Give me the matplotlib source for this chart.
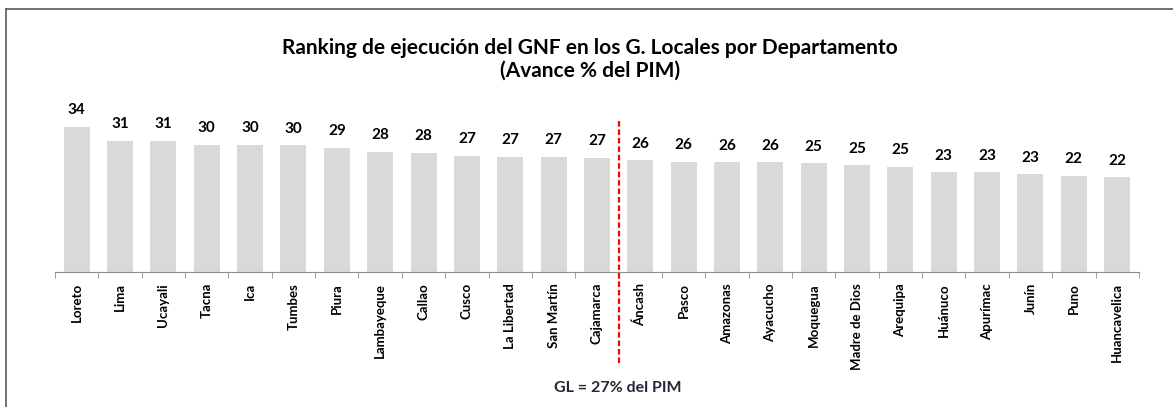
import matplotlib.pyplot as plt
from matplotlib.lines import Line2D
import numpy as np

plt.rcParams['font.family'] = ['Lato', 'DejaVu Sans']

departamentos = ['Loreto', 'Lima', 'Ucayali', 'Tacna', 'Ica', 'Tumbes', 'Piura',
                 'Lambayeque', 'Callao', 'Cusco', 'La Libertad', 'San Martín',
                 'Cajamarca', 'Áncash', 'Pasco', 'Amazonas', 'Ayacucho', 'Moquegua',
                 'Madre de Dios', 'Arequipa', 'Huánuco', 'Apurímac', 'Junín', 'Puno',
                 'Huancavelica']
avance = [34.0, 30.6, 30.6, 29.8, 29.8, 29.6, 29.1, 28.1, 27.8, 27.2, 26.9, 26.9,
          26.6, 26.1, 25.8, 25.6, 25.6, 25.4, 24.9, 24.6, 23.3, 23.3, 22.8, 22.5, 22.1]
promedio_gl = 27
corte = 12.5  # between Cajamarca and Áncash

fig = plt.figure(figsize=(11.73, 4.07), dpi=100)
ax = fig.add_axes([0.0469, 0.332, 0.924, 0.42])

x = np.arange(len(departamentos))
ax.bar(x, avance, width=0.6, color='#d9d9d9')
for xi, v in zip(x, avance):
    ax.annotate(f'{round(v)}', (xi, v), xytext=(0, 7), textcoords='offset points',
                ha='center', va='bottom', fontsize=11, fontweight='bold')

ax.set_xlim(-0.5, len(departamentos) - 0.5)
ax.set_ylim(0, 40)
ax.set_yticks([])
for s in ['top', 'right', 'left']:
    ax.spines[s].set_visible(False)
ax.spines['bottom'].set_color('#8c8c8c')

ax.set_xticks(x)
ax.set_xticklabels(departamentos, rotation=90, fontsize=9.5, fontweight='bold')
ax.tick_params(axis='x', which='major', length=0, pad=8)
ax.set_xticks(np.arange(-0.5, len(departamentos)), minor=True)
ax.tick_params(axis='x', which='minor', length=4, color='#8c8c8c')

# red dashed divider
ax.plot([corte, corte], [-21.4, 35.2], color='red', linestyle=(0, (2.5, 1.3)),
        linewidth=1.6, clip_on=False)

fig.text(0.503, 0.882, 'Ranking de ejecución del GNF en los G. Locales por Departamento',
         ha='center', va='center', fontsize=15, fontweight='bold')
fig.text(0.503, 0.826, '(Avance % del PIM)',
         ha='center', va='center', fontsize=15, fontweight='bold')
fig.text(0.527, 0.047, f'GL = {promedio_gl}% del PIM', ha='center', va='center',
         fontsize=11.5, fontweight='bold', color='#262636')

# frame (left and top visible)
fig.add_artist(Line2D([0.0055, 0.0055], [0, 0.977], color='#595959', linewidth=1.2))
fig.add_artist(Line2D([0.0055, 1.0], [0.977, 0.977], color='#595959', linewidth=1.2))

fig.savefig('out.png', dpi=100)
